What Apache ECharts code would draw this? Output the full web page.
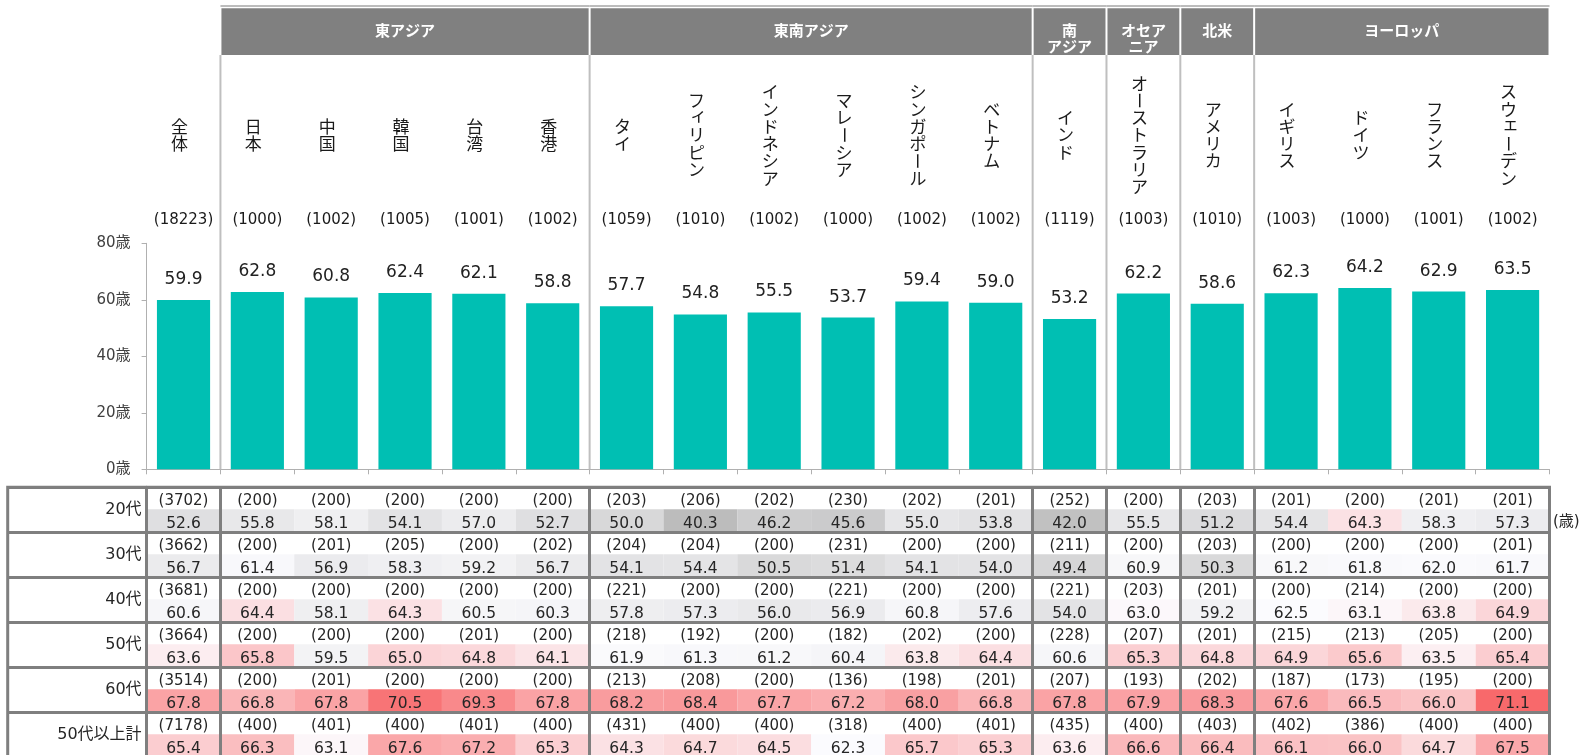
<!DOCTYPE html>
<html><head><meta charset="utf-8">
<script src="https://cdn.jsdelivr.net/npm/echarts/dist/echarts.min.js"></script>
<style>html,body{margin:0;padding:0;background:#fff}#c{width:1585px;height:755px}</style>
</head><body><div id="c"></div>
<script>
// ---------- data ----------
const countries = ['全体','日本','中国','韓国','台湾','香港','タイ','フィリピン','インドネシア','マレーシア','シンガポール','ベトナム','インド','オーストラリア','アメリカ','イギリス','ドイツ','フランス','スウェーデン'];
const samples = [18223,1000,1002,1005,1001,1002,1059,1010,1002,1000,1002,1002,1119,1003,1010,1003,1000,1001,1002];
const barValues = [59.9,62.8,60.8,62.4,62.1,58.8,57.7,54.8,55.5,53.7,59.4,59.0,53.2,62.2,58.6,62.3,64.2,62.9,63.5];

const groupNames = ['東アジア','東南アジア','南\nアジア','オセア\nニア','北米','ヨーロッパ'];
const groupStart = [1,6,12,13,14,15];
const groupEnd   = [5,11,12,13,14,18];

const rowLabels = ['20代','30代','40代','50代','60代','50代以上計'];
const n20 = [3702,200,200,200,200,200,203,206,202,230,202,201,252,200,203,201,200,201,201];
const v20 = [52.6,55.8,58.1,54.1,57.0,52.7,50.0,40.3,46.2,45.6,55.0,53.8,42.0,55.5,51.2,54.4,64.3,58.3,57.3];
const n30 = [3662,200,201,205,200,202,204,204,200,231,200,200,211,200,203,200,200,200,201];
const v30 = [56.7,61.4,56.9,58.3,59.2,56.7,54.1,54.4,50.5,51.4,54.1,54.0,49.4,60.9,50.3,61.2,61.8,62.0,61.7];
const n40 = [3681,200,200,200,200,200,221,200,200,221,200,200,221,203,201,200,214,200,200];
const v40 = [60.6,64.4,58.1,64.3,60.5,60.3,57.8,57.3,56.0,56.9,60.8,57.6,54.0,63.0,59.2,62.5,63.1,63.8,64.9];
const n50 = [3664,200,200,200,201,200,218,192,200,182,202,200,228,207,201,215,213,205,200];
const v50 = [63.6,65.8,59.5,65.0,64.8,64.1,61.9,61.3,61.2,60.4,63.8,64.4,60.6,65.3,64.8,64.9,65.6,63.5,65.4];
const n60 = [3514,200,201,200,200,200,213,208,200,136,198,201,207,193,202,187,173,195,200];
const v60 = [67.8,66.8,67.8,70.5,69.3,67.8,68.2,68.4,67.7,67.2,68.0,66.8,67.8,67.9,68.3,67.6,66.5,66.0,71.1];
const n50p = [7178,400,401,400,401,400,431,400,400,318,400,401,435,400,403,402,386,400,400];
const v50p = [65.4,66.3,63.1,67.6,67.2,65.3,64.3,64.7,64.5,62.3,65.7,65.3,63.6,66.6,66.4,66.1,66.0,64.7,67.5];

const yTicks = [0, 20, 40, 60, 80];
const unitLabel = '(歳)';

// ---------- helpers ----------
const FONT = '"Noto Sans CJK JP"';
const NUMFONT = '"DejaVu Sans","Noto Sans CJK JP"';
const tableN = [n20, n30, n40, n50, n60, n50p];
const tableV = [v20, v30, v40, v50, v60, v50p];
const cells = [];
tableV.forEach((vals, r) => vals.forEach((v, c) => cells.push([c, r, tableN[r][c], v])));

const allVals = [].concat(...tableV).slice().sort((a, b) => a - b);
const vMin = allVals[0], vMax = allVals[allVals.length - 1];
const m = allVals.length;
const vMid = m % 2 ? allVals[(m - 1) / 2] : (allVals[m / 2 - 1] + allVals[m / 2]) / 2;
const cLo = [188,188,188], cMid = [252,252,255], cHi = [248,105,107];
function mix(a, b, t) { return 'rgb(' + a.map((x, i) => Math.round(x + (b[i] - x) * t)).join(',') + ')'; }
function heat(v) {
  if (v <= vMid) return mix(cLo, cMid, (v - vMin) / (vMid - vMin));
  return mix(cMid, cHi, (v - vMid) / (vMax - vMid));
}
function ts(text, size, color, family, weight) {
  return { text: text, fontSize: size, fontFamily: family, fontWeight: weight || 'normal',
           fill: color, align: 'center', verticalAlign: 'middle' };
}

const GL = 146.6, GW = 1402.9;
const SMALL = 'ァィゥェォッャュョ';

function renderHeader(params, api) {
  const i = api.value(0);
  const x = api.coord([i, 0])[0];
  const chars = Array.from(countries[i]);
  const n = chars.length, step = 17.3, cy = 135;
  const children = chars.map((ch, k) => {
    let y = cy + (k - (n - 1) / 2) * step, dx = -4, rot = 0;
    if (ch === 'ー') rot = -Math.PI / 2;
    if (SMALL.includes(ch)) { dx += 2; y -= 3; }
    return { type: 'text', x: x + dx, y: y, rotation: rot, style: ts(ch, 17, '#1a1a1a', FONT) };
  });
  children.push({ type: 'text', x: x, y: 220, style: ts('(' + samples[i] + ')', 15, '#1a1a1a', NUMFONT) });
  return { type: 'group', children: children };
}

function renderGroup(params, api) {
  const s = api.value(0), e = api.value(1);
  const bw = api.size([1, 0])[0];
  const x0 = api.coord([s, 0])[0] - bw / 2, x1 = api.coord([e, 0])[0] + bw / 2;
  const yb = api.coord([s, 0])[1];
  const children = [
    { type: 'rect', shape: { x: x0 + 1, y: 8.3, width: x1 - x0 - 2, height: 46.7 }, style: { fill: '#808080' } },
    { type: 'line', shape: { x1: x0, y1: 6, x2: x1, y2: 6 }, style: { stroke: '#A6A6A6', lineWidth: 1.5 } },
    { type: 'line', shape: { x1: x0, y1: 55, x2: x0, y2: yb }, style: { stroke: '#BFBFBF', lineWidth: 2 } }
  ];
  groupNames[params.dataIndex].split('\n').forEach((ln, k) => {
    children.push({ type: 'text', x: (x0 + x1) / 2, y: 30 + 16.5 * k, style: ts(ln, 15, '#fff', FONT, 'bold') });
  });
  return { type: 'group', children: children };
}

function renderCell(params, api) {
  const col = api.value(0), row = api.value(1), n = api.value(2), v = api.value(3);
  const c = api.coord([col, row]);
  const s = api.size([1, 1]);
  const w = s[0], h = s[1];
  return { type: 'group', children: [
    { type: 'rect', shape: { x: c[0] - w / 2, y: c[1] - 0.5, width: w, height: h / 2 + 0.5 }, style: { fill: heat(v) } },
    { type: 'text', x: c[0], y: c[1] - h / 4 + 3, style: ts('(' + n + ')', 15, '#262626', NUMFONT) },
    { type: 'text', x: c[0], y: c[1] + h / 4 + 3, style: ts(v.toFixed(1), 15.5, '#262626', NUMFONT) }
  ] };
}

const border = { color: '#7F7F7F', width: 3 };

const chart = echarts.init(document.getElementById('c'));
chart.setOption({
  animation: false,
  textStyle: { fontFamily: NUMFONT },
  grid: [
    { left: GL, top: 243.3, width: GW, height: 226, containLabel: false, outerBoundsMode: 'none' },
    { left: GL, top: 487.3, width: GW, height: 270, containLabel: false, outerBoundsMode: 'none' }
  ],
  xAxis: [
    { type: 'category', gridIndex: 0, data: countries,
      axisLabel: { show: false },
      axisLine: { lineStyle: { color: '#B0B0B0', width: 1 } },
      axisTick: { show: true, interval: 0, length: 5, lineStyle: { color: '#B0B0B0' } },
      splitLine: { show: false } },
    { type: 'category', gridIndex: 1, data: countries, z: 10,
      axisLabel: { show: false }, axisLine: { show: false }, axisTick: { show: false },
      splitLine: { show: true, interval: (idx) => groupStart.indexOf(idx) >= 0, lineStyle: border } }
  ],
  yAxis: [
    { type: 'value', gridIndex: 0, min: yTicks[0], max: yTicks[yTicks.length - 1], interval: yTicks[1] - yTicks[0],
      axisLabel: { formatter: '{value}歳', fontSize: 15, fontFamily: NUMFONT, color: '#404040', margin: 16 },
      axisLine: { show: true, lineStyle: { color: '#B0B0B0', width: 1 } },
      axisTick: { show: true, length: 5, lineStyle: { color: '#B0B0B0' } },
      splitLine: { show: false } },
    { type: 'category', gridIndex: 1, data: rowLabels, inverse: true, z: 10,
      axisLabel: { fontSize: 16, fontFamily: NUMFONT, color: '#262626', margin: 5 },
      axisLine: { show: true, lineStyle: border },
      axisTick: { show: true, interval: 0, length: 139, lineStyle: border },
      splitLine: { show: true, interval: 0, lineStyle: border } }
  ],
  series: [
    { type: 'bar', xAxisIndex: 0, yAxisIndex: 0, data: barValues, barCategoryGap: '28%',
      itemStyle: { color: '#00BFB3' },
      label: { show: true, position: 'top', distance: 12, fontSize: 17, color: '#222', fontFamily: NUMFONT,
        formatter: p => p.value.toFixed(1) } },
    { type: 'custom', xAxisIndex: 0, yAxisIndex: 0, silent: true, clip: false,
      data: countries.map((_, i) => [i, 0]), renderItem: renderHeader },
    { type: 'custom', xAxisIndex: 0, yAxisIndex: 0, silent: true, clip: false,
      data: groupStart.map((s, i) => [s, groupEnd[i]]), renderItem: renderGroup },
    { type: 'custom', xAxisIndex: 1, yAxisIndex: 1, silent: true, clip: false,
      data: cells, renderItem: renderCell }
  ],
  graphic: [
    { type: 'rect', z: 100, silent: true, shape: { x: 7.7, y: 487.3, width: GL + GW - 7.7, height: 270 },
      style: { fill: 'transparent', stroke: '#7F7F7F', lineWidth: 3 } },
    { type: 'text', z: 100, x: 1553, y: 522.5,
      style: { text: unitLabel, fontSize: 15, fontFamily: NUMFONT, fill: '#262626', align: 'left', verticalAlign: 'middle' } }
  ]
});
</script></body></html>
